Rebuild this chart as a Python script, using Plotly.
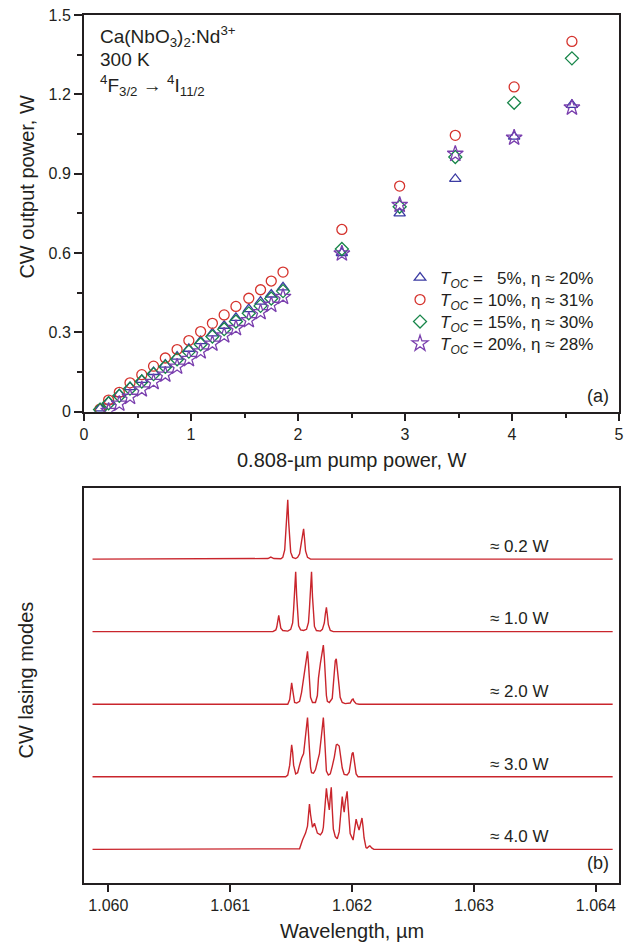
import plotly.graph_objects as go

# ---------------- Panel (a) data ----------------
pump_low = [0.15, 0.23, 0.33, 0.43, 0.54, 0.65, 0.76, 0.87, 0.98, 1.09,
            1.20, 1.31, 1.42, 1.54, 1.65, 1.75, 1.86]
pump_high = [2.41, 2.95, 3.47, 4.02, 4.56]

out_5 = [0.012, 0.038, 0.066, 0.093, 0.120, 0.150, 0.178, 0.208, 0.238, 0.267,
         0.296, 0.325, 0.355, 0.388, 0.416, 0.443, 0.470,
         0.600, 0.750, 0.880, 1.040, 1.160]
out_10 = [0.010, 0.044, 0.073, 0.109, 0.140, 0.172, 0.203, 0.235, 0.269, 0.303,
          0.334, 0.366, 0.398, 0.429, 0.461, 0.494, 0.528,
          0.689, 0.853, 1.045, 1.228, 1.400]
out_15 = [0.008, 0.032, 0.060, 0.087, 0.114, 0.142, 0.170, 0.198, 0.227, 0.255,
          0.284, 0.312, 0.341, 0.372, 0.400, 0.428, 0.456,
          0.615, 0.775, 0.963, 1.168, 1.336]
out_20 = [0.003, 0.030, 0.056, 0.084, 0.112, 0.140, 0.170, 0.199, 0.228,
          0.257, 0.288, 0.316, 0.346, 0.376, 0.404, 0.434,
          0.598, 0.782, 0.975, 1.036, 1.150]

series_names = [
    "<i>T</i><sub><i>OC</i></sub> = \u00a0\u00a05%, \u03b7 \u2248 20%",
    "<i>T</i><sub><i>OC</i></sub> = 10%, \u03b7 \u2248 31%",
    "<i>T</i><sub><i>OC</i></sub> = 15%, \u03b7 \u2248 30%",
    "<i>T</i><sub><i>OC</i></sub> = 20%, \u03b7 \u2248 28%",
]

# ---------------- Panel (b) data ----------------
wl_02 = [1.059870, 1.061268, 1.061309, 1.061333, 1.061358, 1.061415, 1.061431,
         1.061447, 1.061455, 1.061463, 1.061472, 1.061480, 1.061488, 1.061496,
         1.061512, 1.061537, 1.061553, 1.061569, 1.061585, 1.061593, 1.061602,
         1.061610, 1.061618, 1.061634, 1.061659, 1.064138]
int_02 = [0, 0, 0.01, 0.035, 0.01, 0.005, 0.03,
          0.16, 0.38, 0.70, 1.02, 0.62, 0.30, 0.12,
          0.03, 0.01, 0.03, 0.09, 0.30, 0.46, 0.52,
          0.34, 0.14, 0.03, 0.0, 0]

wl_10 = [1.059870, 1.061350, 1.061374, 1.061382, 1.061390, 1.061398, 1.061407,
         1.061415, 1.061431, 1.061472, 1.061496, 1.061512, 1.061520, 1.061528,
         1.061537, 1.061545, 1.061553, 1.061561, 1.061577, 1.061602, 1.061626,
         1.061642, 1.061650, 1.061659, 1.061667, 1.061675, 1.061683, 1.061691,
         1.061707, 1.061740, 1.061756, 1.061772, 1.061780, 1.061789, 1.061797,
         1.061805, 1.061821, 1.061846, 1.064138]
int_10 = [0, 0, 0.03, 0.08, 0.18, 0.28, 0.16,
          0.06, 0.02, 0.01, 0.04, 0.15, 0.38, 0.75,
          1.03, 0.62, 0.28, 0.10, 0.03, 0.02, 0.04,
          0.16, 0.40, 0.78, 1.03, 0.60, 0.26, 0.09,
          0.02, 0.01, 0.04, 0.15, 0.30, 0.42, 0.28,
          0.12, 0.02, 0, 0]

wl_20 = [1.059870, 1.061472, 1.061488, 1.061496, 1.061504, 1.061512, 1.061520,
         1.061528, 1.061545, 1.061569, 1.061585, 1.061602, 1.061618, 1.061634,
         1.061642, 1.061650, 1.061659, 1.061675, 1.061699, 1.061715, 1.061724,
         1.061740, 1.061756, 1.061764, 1.061772, 1.061780, 1.061789, 1.061797,
         1.061813, 1.061837, 1.061846, 1.061854, 1.061862, 1.061870, 1.061878,
         1.061886, 1.061894, 1.061902, 1.061919, 1.061943, 1.061984, 1.062000,
         1.062008, 1.062016, 1.062033, 1.062057, 1.064138]
int_20 = [0, 0, 0.08, 0.22, 0.37, 0.25, 0.09,
          0.03, 0.02, 0.05, 0.20, 0.45, 0.72, 0.91,
          0.70, 0.35, 0.12, 0.03, 0.03, 0.15, 0.45,
          0.71, 0.90, 1.02, 0.80, 0.42, 0.15, 0.05,
          0.03, 0.10, 0.28, 0.55, 0.75, 0.78, 0.62,
          0.50, 0.30, 0.12, 0.03, 0.01, 0.02, 0.08,
          0.09, 0.05, 0.01, 0, 0]

wl_30 = [1.059870, 1.061455, 1.061472, 1.061488, 1.061496, 1.061504, 1.061512,
         1.061520, 1.061537, 1.061553, 1.061569, 1.061585, 1.061602, 1.061618,
         1.061626, 1.061634, 1.061642, 1.061650, 1.061659, 1.061667, 1.061683,
         1.061699, 1.061715, 1.061732, 1.061748, 1.061756, 1.061764, 1.061772,
         1.061780, 1.061789, 1.061805, 1.061821, 1.061837, 1.061854, 1.061870,
         1.061878, 1.061894, 1.061902, 1.061911, 1.061919, 1.061935, 1.061959,
         1.061976, 1.061992, 1.062000, 1.062008, 1.062016, 1.062024, 1.062033,
         1.062049, 1.064138]
int_30 = [0, 0, 0.03, 0.20, 0.38, 0.55, 0.42,
          0.20, 0.05, 0.07, 0.20, 0.32, 0.40, 0.70,
          0.90, 1.02, 0.75, 0.40, 0.16, 0.07, 0.06,
          0.12, 0.24, 0.40, 0.70, 0.90, 1.02, 0.75,
          0.35, 0.10, 0.03, 0.05, 0.18, 0.34, 0.55,
          0.56, 0.53, 0.40, 0.25, 0.15, 0.04, 0.03,
          0.08, 0.30, 0.40, 0.42, 0.30, 0.12, 0.05,
          0, 0]

wl_40 = [1.059870, 1.061553, 1.061569, 1.061593, 1.061618, 1.061634, 1.061650,
         1.061659, 1.061675, 1.061691, 1.061707, 1.061715, 1.061740, 1.061756,
         1.061764, 1.061780, 1.061789, 1.061797, 1.061813, 1.061821, 1.061829,
         1.061837, 1.061846, 1.061862, 1.061878, 1.061894, 1.061911, 1.061919,
         1.061927, 1.061935, 1.061943, 1.061959, 1.061967, 1.061976, 1.061984,
         1.062008, 1.062024, 1.062033, 1.062041, 1.062057, 1.062065, 1.062081,
         1.062089, 1.062098, 1.062114, 1.062122, 1.062138, 1.062146, 1.062163,
         1.062179, 1.064138]
int_40 = [0, 0, 0.01, 0.16, 0.28, 0.40, 0.78,
          0.60, 0.38, 0.45, 0.32, 0.28, 0.25, 0.30,
          0.38, 0.80, 1.05, 0.90, 0.68, 0.90, 1.07,
          0.70, 0.35, 0.22, 0.18, 0.30, 0.80, 0.91,
          0.75, 0.64, 0.80, 1.00, 0.75, 0.45, 0.27,
          0.16, 0.40, 0.52, 0.45, 0.33, 0.40, 0.54,
          0.40, 0.20, 0.03, 0.02, 0.05, 0.06, 0.02,
          0, 0]

spectra_wl = [wl_02, wl_10, wl_20, wl_30, wl_40]
spectra_int = [int_02, int_10, int_20, int_30, int_40]
power_labels = ["\u2248 0.2 W", "\u2248 1.0 W", "\u2248 2.0 W", "\u2248 3.0 W", "\u2248 4.0 W"]
wl_ticks = [1.060, 1.061, 1.062, 1.063, 1.064]

# ---------------- styling ----------------
FONT = "Liberation Sans, Arial, Helvetica, sans-serif"
TXT = "#231f20"
colors = ["#3b3ba3", "#d5332d", "#18864a", "#7a3fae"]
symbols = ["triangle-up-open", "circle-open", "diamond-open", "star-open"]
sizes = [10, 10, 10, 12]
spec_color = "#c9252c"
spectrum_offsets = [5.0, 3.75, 2.5, 1.25, 0.0]
legend_ids = ["legend", "legend2", "legend3", "legend4"]
legend_row_px = [278, 300, 322, 344]

fig = go.Figure()

xs = [pump_low + pump_high, pump_low + pump_high, pump_low + pump_high, pump_low[1:] + pump_high]
ys = [out_5, out_10, out_15, out_20]
for i in range(4):
    fig.add_trace(go.Scatter(
        x=xs[i], y=ys[i], mode="markers", name=series_names[i],
        marker=dict(symbol=symbols[i], size=sizes[i], color=colors[i],
                    line=dict(width=1.3, color=colors[i])),
        xaxis="x", yaxis="y", showlegend=True, legend=legend_ids[i]))

for k in range(5):
    fig.add_trace(go.Scatter(
        x=spectra_wl[k], y=[v + spectrum_offsets[k] for v in spectra_int[k]],
        mode="lines", line=dict(color=spec_color, width=1.4),
        xaxis="x2", yaxis="y2", showlegend=False))

axis_common = dict(showline=True, mirror=True, linewidth=2, linecolor=TXT,
                   showgrid=False, zeroline=False, ticks="outside",
                   tickwidth=1.5, tickcolor=TXT,
                   tickfont=dict(size=16, color=TXT, family=FONT))

fig.update_layout(
    width=631, height=945,
    margin=dict(l=84, r=7, t=15, b=62),
    paper_bgcolor="white", plot_bgcolor="white",
    font=dict(family=FONT, color=TXT),
    xaxis=dict(domain=[0, 1], anchor="y", range=[0, 5], dtick=1, ticklen=7,
               minor=dict(dtick=0.5, ticklen=4, ticks="outside", tickwidth=1.5, tickcolor=TXT),
               **axis_common),
    yaxis=dict(domain=[0.5430, 1], anchor="x", range=[0, 1.5], dtick=0.3, ticklen=8,
               minor=dict(dtick=0.15, ticklen=5, ticks="outside", tickwidth=1.5, tickcolor=TXT),
               **axis_common),
    xaxis2=dict(domain=[0, 1], anchor="y2", range=[1.0598, 1.06419],
                tickvals=wl_ticks, tickformat=".3f", ticklen=7, **axis_common),
    yaxis2=dict(domain=[0, 0.4554], anchor="x2", range=[-0.58, 6.23],
                showline=True, mirror=True, linewidth=2, linecolor=TXT,
                showgrid=False, zeroline=False, showticklabels=False, ticks=""),
)

for lid, rowy in zip(legend_ids, legend_row_px):
    fig.update_layout({lid: dict(x=0.5907, y=(883 - rowy) / 868, xanchor="left", yanchor="middle",
                                 bgcolor="rgba(0,0,0,0)", borderwidth=0,
                                 font=dict(size=17, color=TXT, family=FONT),
                                 itemwidth=30, tracegroupgap=0)})

ann = []
# axis titles
ann.append(dict(text="0.808-\u00b5m pump power, W", xref="paper", yref="paper",
                x=0.5, y=0.487, xanchor="center", yanchor="middle", showarrow=False,
                font=dict(size=20)))
ann.append(dict(text="CW output power, W", xref="paper", yref="paper",
                x=-0.1074, y=0.8018, xanchor="center", yanchor="middle", textangle=-90,
                showarrow=False, font=dict(size=20)))
ann.append(dict(text="Wavelength, \u00b5m", xref="paper", yref="paper",
                x=0.5, y=-0.0553, xanchor="center", yanchor="middle", showarrow=False,
                font=dict(size=20)))
ann.append(dict(text="CW lasing modes", xref="paper", yref="paper",
                x=-0.1093, y=0.234, xanchor="center", yanchor="middle", textangle=-90,
                showarrow=False, font=dict(size=20)))
# panel (a) header text
header = ["Ca(NbO<sub>3</sub>)<sub>2</sub>:Nd<sup>3+</sup>", "300 K",
          "<sup>4</sup>F<sub>3/2</sub> \u2192 <sup>4</sup>I<sub>11/2</sub>"]
header_px = [37, 60, 85]
for t, yy in zip(header, header_px):
    ann.append(dict(text=t, xref="paper", yref="paper", x=0.0259, y=(883 - yy) / 868,
                    xanchor="left", yanchor="middle", showarrow=False, font=dict(size=19)))
ann.append(dict(text="(a)", xref="paper", yref="paper", x=0.985, y=(883 - 396) / 868,
                xanchor="right", yanchor="middle", showarrow=False, font=dict(size=18)))
ann.append(dict(text="(b)", xref="paper", yref="paper", x=0.985, y=(883 - 863) / 868,
                xanchor="right", yanchor="middle", showarrow=False, font=dict(size=18)))
for k in range(5):
    ann.append(dict(text=power_labels[k], xref="x2", yref="y2", x=1.06337,
                    y=spectrum_offsets[k] + 0.22, xanchor="center", yanchor="middle",
                    showarrow=False, font=dict(size=17)))
fig.update_layout(annotations=ann)

fig.write_html("out.html")
